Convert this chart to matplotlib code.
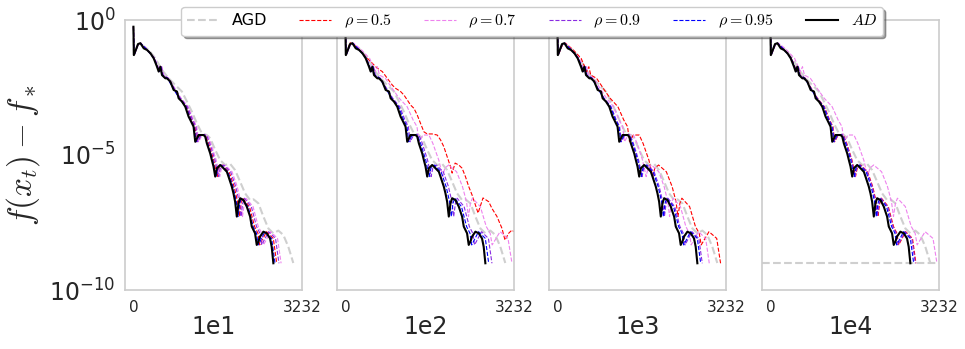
import matplotlib
matplotlib.use("Agg")
import matplotlib.pyplot as plt
import numpy as np

plt.rcParams['mathtext.fontset'] = 'cm'
plt.rcParams['font.family'] = ['DejaVu Sans']

panel_labels = ["1e1", "1e2", "1e3", "1e4"]
x_max = 3232
tol = 1e-9

# AD (same in every panel): iterations and log10(f - f*)
ad_x = [0, 8, 89, 134, 198, 261, 325, 389, 452, 484, 516, 548, 580, 612, 644, 707, 771, 835, 867, 930,
        994, 1058, 1090, 1153, 1185, 1217, 1249, 1345, 1377, 1408, 1472, 1504, 1536, 1568, 1600, 1663,
        1727, 1791, 1823, 1886, 1918, 1950, 1982, 2014, 2046, 2110, 2173, 2237, 2269, 2332, 2364, 2396,
        2428, 2492, 2556, 2619, 2651, 2683]
ad_y = [-0.25, -1.30, -0.89, -0.86, -1.05, -1.11, -1.23, -1.42, -1.73, -1.91, -1.73, -2.04, -2.10, -2.16,
        -2.16, -2.28, -2.59, -2.65, -2.90, -3.02, -3.21, -3.58, -3.70, -3.95, -4.51, -4.38, -4.26, -4.26,
        -4.32, -4.57, -4.94, -5.19, -5.43, -5.80, -5.49, -5.37, -5.49, -5.62, -5.80, -6.17, -6.42, -6.73,
        -7.28, -6.79, -6.60, -6.67, -6.91, -7.28, -7.65, -7.90, -8.33, -8.21, -8.02, -7.84, -7.90, -8.09,
        -8.40, -9.01]

# AGD (same in every panel)
agd_x = [0, 8, 89, 166, 293, 421, 548, 676, 803, 930, 1026, 1122, 1217, 1313, 1408, 1472, 1568, 1663,
         1759, 1855, 1950, 2046, 2141, 2237, 2301, 2396, 2492, 2587, 2683, 2779, 2874, 2970, 3065]
agd_y = [-0.25, -1.30, -0.89, -0.93, -1.11, -1.42, -1.85, -2.16, -2.41, -2.65, -3.02, -3.40, -3.83,
         -4.20, -4.26, -4.38, -4.81, -5.19, -5.37, -5.33, -5.56, -5.99, -6.42, -6.67, -6.64, -6.79,
         -7.28, -7.72, -7.90, -7.80, -7.96, -8.40, -9.00]

# log10 values shared by the rho curves that track AD closely
rho_y = [-0.25, -1.30, -0.89, -0.86, -1.11, -1.42, -1.91, -1.73, -2.04, -2.16, -2.59, -2.90, -3.21,
         -3.70, -3.95, -4.51, -4.26, -4.26, -4.57, -5.19, -5.80, -5.49, -5.37, -5.62, -6.17, -6.73,
         -7.28, -6.79, -6.60, -6.91, -7.65, -7.90, -8.33, -8.21, -7.84, -8.09, -9.01]

# iteration positions of each rho curve
x_1012 = [0, 13, 90, 136, 264, 394, 490, 522, 555, 652, 780, 877, 1006, 1103, 1167, 1199, 1264, 1361,
          1425, 1522, 1587, 1619, 1683, 1812, 1909, 1973, 2006, 2038, 2071, 2199, 2296, 2360, 2392,
          2425, 2522, 2650, 2715]
x_1024 = [0, 13, 91, 137, 267, 398, 496, 528, 561, 659, 790, 888, 1018, 1116, 1181, 1213, 1279, 1377,
          1442, 1540, 1606, 1638, 1703, 1834, 1931, 1997, 2030, 2062, 2095, 2225, 2323, 2388, 2421,
          2454, 2552, 2682, 2747]
x_1035 = [0, 13, 92, 139, 270, 403, 501, 534, 567, 667, 798, 897, 1029, 1128, 1193, 1226, 1293, 1392,
          1457, 1557, 1623, 1656, 1721, 1854, 1952, 2018, 2051, 2084, 2118, 2249, 2348, 2414, 2447,
          2480, 2579, 2711, 2777]
x_1040 = [0, 14, 93, 139, 271, 405, 503, 537, 570, 670, 802, 902, 1034, 1134, 1199, 1232, 1299, 1399,
          1464, 1564, 1631, 1664, 1730, 1863, 1961, 2028, 2061, 2095, 2128, 2260, 2360, 2425, 2459,
          2492, 2592, 2724, 2790]
x_1047 = [0, 14, 93, 140, 273, 407, 507, 540, 574, 674, 807, 908, 1041, 1141, 1207, 1241, 1308, 1408,
          1474, 1575, 1642, 1675, 1741, 1875, 1975, 2042, 2075, 2109, 2142, 2275, 2376, 2442, 2475,
          2509, 2609, 2742, 2809]
x_1055 = [0, 14, 94, 141, 275, 410, 511, 544, 578, 679, 813, 915, 1049, 1150, 1216, 1250, 1318, 1419,
          1485, 1587, 1654, 1688, 1754, 1890, 1990, 2057, 2091, 2125, 2159, 2293, 2394, 2460, 2494,
          2528, 2629, 2763, 2831]
x_1085 = [0, 14, 97, 145, 283, 422, 525, 560, 595, 699, 837, 941, 1078, 1183, 1251, 1286, 1355, 1459,
          1528, 1632, 1701, 1736, 1804, 1943, 2046, 2116, 2150, 2185, 2220, 2358, 2462, 2530, 2565,
          2600, 2704, 2842, 2911]
x_1166 = [0, 15, 104, 156, 304, 454, 564, 602, 639, 751, 899, 1011, 1159, 1271, 1344, 1382, 1456, 1568,
          1642, 1754, 1828, 1866, 1939, 2088, 2199, 2274, 2311, 2348, 2386, 2534, 2646, 2719, 2756,
          2794, 2906, 3054, 3128]
x_1190 = [0, 15, 106, 159, 311, 463, 576, 614, 652, 766, 917, 1032, 1183, 1297, 1372, 1410, 1486, 1601,
          1676, 1790, 1866, 1904, 1979, 2131, 2244, 2321, 2359, 2397, 2435, 2586, 2700, 2775, 2813,
          2851, 2965, 3117, 3193]

# rho = 0.5 in the 1e2 panel (does not reach the tolerance)
red2_x = [0, 13, 89, 229, 357, 484, 580, 644, 707, 803, 899, 962, 1058, 1122, 1185, 1249, 1313, 1377,
          1440, 1504, 1568, 1663, 1759, 1823, 1886, 1950, 2014, 2046, 2103, 2173, 2237, 2301, 2364,
          2428, 2492, 2543, 2638, 2747, 2810, 2906, 3002, 3059, 3129, 3193, 3231]
red2_y = [-0.25, -1.30, -0.84, -1.01, -1.30, -1.54, -1.73, -1.83, -1.91, -2.16, -2.41, -2.53, -2.65,
          -2.78, -2.96, -3.15, -3.27, -3.52, -3.83, -4.14, -4.22, -4.22, -4.26, -4.44, -4.69, -5.06,
          -5.43, -5.67, -5.30, -5.37, -5.49, -5.80, -6.17, -6.48, -6.85, -7.15, -6.59, -6.73, -6.98,
          -7.28, -7.72, -8.15, -7.90, -7.78, -7.84]

rho_labels = [r"$\rho=0.5$", r"$\rho=0.7$", r"$\rho=0.9$", r"$\rho=0.95$"]
rho_colors = ["red", "violet", "blueviolet", "blue"]

# per panel: (x, logy) for rho = 0.5, 0.7, 0.9, 0.95
panel_series = [
    [(x_1024, rho_y), (x_1055, rho_y), (x_1040, rho_y), (x_1012, rho_y)],
    [(red2_x, red2_y), (x_1190, rho_y), (x_1047, rho_y), (x_1024, rho_y)],
    [(x_1166, rho_y), (x_1085, rho_y), (x_1035, rho_y), (x_1024, rho_y)],
    [(x_1040, rho_y), (x_1190, rho_y), (x_1035, rho_y), (x_1024, rho_y)],
]

fig = plt.figure(figsize=(9.65, 3.49), dpi=100)
W, H = 965.0, 349.0
lefts = [125, 337, 549, 762]
grey = "#cfcfcf"
txt = "#262626"
handles = None
for i, left in enumerate(lefts):
    ax = fig.add_axes([left / W, 1 - 290 / H, 177 / W, 270 / H])
    h_agd, = ax.plot(agd_x, 10 ** np.array(agd_y), '--', color=grey, lw=1.5, label="AGD")
    hs = []
    for (sx, sy), c, lab in zip(panel_series[i], rho_colors, rho_labels):
        h, = ax.plot(sx, 10 ** np.array(sy), '--', color=c, lw=0.8, label=lab)
        hs.append(h)
    if i == 3:
        ax.axhline(tol, ls='--', color=grey, lw=1.5)
    h_ad, = ax.plot(ad_x, 10 ** np.array(ad_y), '-', color='black', lw=1.5, label="$AD$")
    handles = [h_agd] + hs + [h_ad]
    ax.set_yscale('log')
    ax.set_ylim(1e-10, 1e0)
    ax.set_xlim(-161.6, x_max)
    ax.set_xticks([0, x_max])
    ax.set_xticklabels(["0", str(x_max)])
    ax.set_yticks([1e0, 1e-5, 1e-10])
    ax.minorticks_off()
    ax.tick_params(axis='x', labelsize=11, length=0, colors=txt, pad=7)
    ax.tick_params(axis='y', labelsize=17, length=0, colors=txt, pad=7)
    if i > 0:
        ax.set_yticklabels([])
    else:
        ax.set_ylabel(r"$f(x_t) - f_*$", fontsize=24, color=txt, labelpad=5)
    ax.set_xlabel(panel_labels[i], fontsize=17, color=txt, labelpad=0)
    for sp in ax.spines.values():
        sp.set_color("#cccccc")
        sp.set_linewidth(1.2)

labels = ["AGD"] + rho_labels + ["$AD$"]
leg = fig.legend(handles, labels, loc='upper center', bbox_to_anchor=(0.5515, 1.0), ncol=6,
                 fontsize=11.5, frameon=True, shadow=True, fancybox=True, borderaxespad=0.45,
                 borderpad=0.35, framealpha=1.0)
leg.get_frame().set_edgecolor("#cccccc")

fig.savefig("out.png", dpi=100)
